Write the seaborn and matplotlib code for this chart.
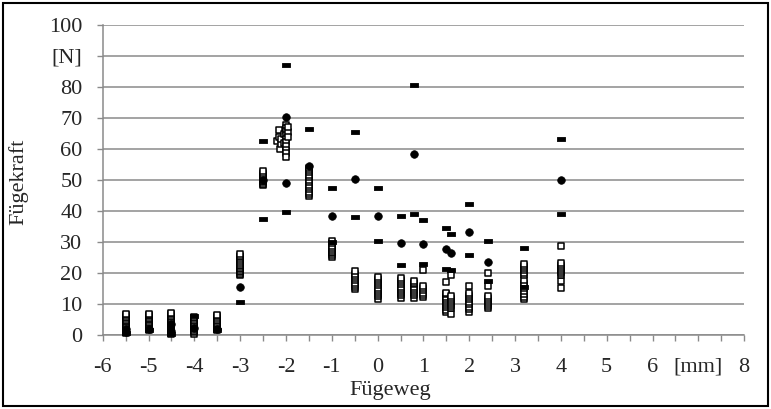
import numpy as np
import pandas as pd
import matplotlib
matplotlib.use("Agg")
import matplotlib.pyplot as plt
from matplotlib.patches import Rectangle
import seaborn as sns

# Einzelmessungen (offene Quadrate), je Fügeweg-Stufe
sq_groups = {
    -5.5: [0.8, 1.2, 1.6, 2.0, 2.4, 2.9, 3.3, 3.8, 4.2, 4.7, 5.1, 5.6, 6.0, 6.5, 6.9],
    -5.0: [1.6, 2.0, 2.5, 2.9, 3.4, 3.9, 4.3, 4.8, 5.2, 5.7, 6.1, 6.6, 7.0],
    -4.5: [0.6, 1.0, 1.5, 1.9, 2.4, 2.9, 3.3, 3.8, 4.3, 4.8, 5.3, 5.8, 6.3, 6.8, 7.2],
    -4.0: [0.6, 1.0, 1.5, 2.0, 2.5, 3.0, 3.5, 4.0, 4.5, 5.0, 5.5, 6.0],
    -3.5: [1.7, 2.1, 2.6, 3.1, 3.6, 4.1, 4.6, 5.1, 5.6, 6.1, 6.6],
    -3.0: [19.3, 19.8, 20.3, 20.8, 21.3, 21.8, 22.3, 22.8, 23.4, 23.9, 24.5, 25.1, 25.7, 26.1],
    -2.5: [48.3, 48.8, 49.3, 49.8, 50.3, 50.8, 51.3, 51.8, 52.3, 52.8],
    -1.5: [44.9, 45.6, 46.3, 47.0, 47.8, 48.5, 49.3, 50.1, 50.9, 51.7, 52.5, 53.3, 54.0],
    -1.0: [25.2, 25.8, 26.4, 27.0, 27.6, 28.2, 28.9, 29.6, 30.5],
    -0.5: [14.9, 15.6, 16.3, 17.0, 17.7, 18.4, 19.1, 19.9, 20.8],
    0.0: [11.8, 12.6, 13.3, 14.0, 14.7, 15.4, 16.1, 16.8, 17.5, 18.2, 18.8],
    0.5: [12.2, 12.9, 13.6, 14.3, 15.0, 15.7, 16.4, 17.1, 17.8, 18.5],
    0.8: [12.2, 12.9, 13.6, 14.3, 15.0, 15.7, 16.4, 17.0, 17.6],
    1.0: [12.4, 13.1, 13.8, 14.5, 15.2, 15.9, 21.1],
    1.5: [7.6, 8.3, 9.0, 9.7, 10.4, 11.1, 11.8, 12.5, 13.2, 13.6, 17.3],
    1.6: [6.8, 8.7, 9.4, 10.1, 10.8, 11.5, 12.1, 12.6, 19.5],
    2.0: [7.6, 8.4, 9.2, 10.0, 10.8, 11.6, 12.4, 13.1, 13.7, 16.0],
    2.4: [8.7, 9.4, 10.1, 10.8, 11.4, 12.1, 12.7, 15.9, 20.0],
    3.2: [11.6, 12.5, 13.4, 14.3, 15.2, 16.1, 17.0, 17.8, 19.4, 20.2, 21.0, 21.8, 22.5, 23.0],
    4.0: [15.4, 17.6, 19.3, 20.0, 20.7, 21.4, 22.1, 22.7, 23.3, 28.9],
}
# Stufe -2 mm: leicht seitlich versetzte Messwerte
sq_m2_x = [-2.2, -2.15, -2.15, -2.12, -2.1, -2.1, -2.05, -2.05,
           -2.0, -2.0, -2.0, -2.0, -2.0, -2.0, -2.0, -2.0, -2.0, -2.0,
           -1.95, -1.95, -1.95]
sq_m2_y = [62.5, 64.0, 66.0, 60.2, 61.5, 63.2, 62.0, 65.0,
           67.8, 66.8, 65.8, 64.6, 63.4, 62.2, 61.0, 59.8, 58.6, 57.4,
           65.5, 67.0, 63.8]

# Mittelwerte (gefüllte Kreise)
pt_x = [-5.5, -5.5, -5.0, -4.5, -4.5, -4.0, -3.5, -3.0, -2.5, -2.0, -2.0,
        -1.5, -1.0, -0.5, 0.0, 0.5, 0.8, 1.0, 1.5, 1.6, 2.0, 2.4, 4.0]
pt_y = [1.2, 2.2, 2.0, 1.5, 3.8, 2.5, 2.0, 15.7, 50.0, 70.5, 49.0,
        54.5, 38.3, 50.4, 38.3, 29.9, 58.3, 29.5, 27.8, 26.5, 33.4, 23.5, 50.1]

# Grenzwerte (Striche)
dash_x = [-5.5, -5.0, -4.5, -4.0, -3.5, -3.0, -2.5, -2.5, -2.0, -2.0, -1.5,
          -1.0, -1.0, -0.5, -0.5, 0.0, 0.0, 0.5, 0.5, 0.8, 0.8, 1.0, 1.0,
          1.5, 1.5, 1.6, 1.6, 2.0, 2.0, 2.4, 2.4, 3.2, 3.2, 4.0, 4.0]
dash_y = [0.8, 1.6, 0.5, 6.3, 1.6, 10.9, 62.5, 37.5, 87.2, 39.7, 66.5,
          47.4, 30.2, 65.5, 38.0, 47.4, 30.5, 38.6, 22.7, 80.5, 39.0, 37.2, 22.9,
          34.7, 21.4, 32.7, 20.9, 42.2, 26.0, 30.4, 17.6, 28.2, 15.7, 63.4, 39.2]

x_ticks = [-6, -5, -4, -3, -2, -1, 0, 1, 2, 3, 4, 5, 6, 7, 8]
x_labels = ["-6", "-5", "-4", "-3", "-2", "-1", "0", "1", "2", "3", "4", "5", "6", "[mm]", "8"]
y_ticks = [0, 10, 20, 30, 40, 50, 60, 70, 80, 90, 100]
y_labels = ["0", "10", "20", "30", "40", "50", "60", "70", "80", "[N]", "100"]

sq_x, sq_y = [], []
for pos, vals in sq_groups.items():
    sq_x += [pos] * len(vals)
    sq_y += vals
sq_x += sq_m2_x
sq_y += sq_m2_y

squares = pd.DataFrame({"Fügeweg": sq_x, "Fügekraft": sq_y})
points = pd.DataFrame({"Fügeweg": pt_x, "Fügekraft": pt_y})
dashes = pd.DataFrame({"Fügeweg": dash_x, "Fügekraft": dash_y})

sns.set_theme(style="white")
plt.rcParams["font.family"] = ["Liberation Serif", "DejaVu Serif"]
fs = 16

fig = plt.figure(figsize=(7.71, 4.09), dpi=100)
ax = fig.add_axes([0.1332, 0.18, 0.832, 0.759])

grey = "#8a8a8a"
ax.set_axisbelow(True)
ax.yaxis.grid(True, color=grey, linewidth=1.1)
ax.xaxis.grid(False)

bar_marker = [(-1, -0.38), (1, -0.38), (1, 0.38), (-1, 0.38), (-1, -0.38)]

sns.scatterplot(data=squares, x="Fügeweg", y="Fügekraft", ax=ax, marker="s",
                s=25, facecolor="white", edgecolor="black", linewidth=1.1,
                clip_on=False, zorder=3)
sns.scatterplot(data=points, x="Fügeweg", y="Fügekraft", ax=ax, marker="o",
                s=30, color="black", edgecolor="black", linewidth=0.5,
                clip_on=False, zorder=4)
sns.scatterplot(data=dashes, x="Fügeweg", y="Fügekraft", ax=ax, marker=bar_marker,
                s=36, color="black", edgecolor="black", linewidth=0.6,
                clip_on=False, zorder=5)

ax.set_xlim(-6, 8)
ax.set_ylim(0, 100)

half_ticks = np.arange(-6, 8.01, 0.5)
ax.set_xticks(half_ticks)
ax.set_xticklabels([x_labels[x_ticks.index(int(t))] if float(t).is_integer() else ""
                    for t in half_ticks])
ax.set_yticks(y_ticks)
ax.set_yticklabels(y_labels)

ax.tick_params(axis="x", direction="out", length=4, width=1, color=grey,
               pad=12, labelsize=fs, bottom=True)
ax.tick_params(axis="y", direction="out", length=4.5, width=1, color=grey,
               pad=10, labelsize=fs, left=True)

for side in ["top", "right"]:
    ax.spines[side].set_visible(False)
for side in ["left", "bottom"]:
    ax.spines[side].set_color(grey)
    ax.spines[side].set_linewidth(1.1)

ax.set_xlabel("")
ax.set_ylabel("")
fig.text(390 / 771, 1 - 395 / 409, "Fügeweg", ha="center", va="baseline", fontsize=fs)
fig.text(18 / 771, 1 - 182 / 409, "Fügekraft", ha="center", va="center",
         rotation=90, fontsize=fs)

fig.patches.append(Rectangle((3 / 771, 3 / 409), 765 / 771, 403 / 409,
                             transform=fig.transFigure, fill=False,
                             edgecolor="black", linewidth=1.5))

fig.savefig("out.png", dpi=100)
